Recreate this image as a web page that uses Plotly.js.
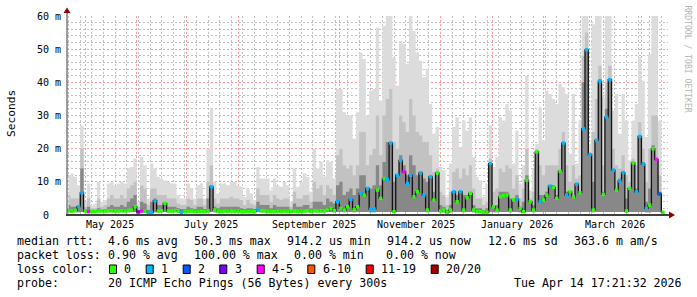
<!DOCTYPE html>
<html>
<head>
<meta charset="utf-8">
<script src="https://cdn.plot.ly/plotly-3.0.1.min.js"></script>
<style>html,body{margin:0;padding:0;background:#fff;}#chart{width:697px;height:297px;}</style>
</head>
<body>
<div id="chart"></div>
<script>
// ---- data (milliseconds), one sample every 2 days starting 2025-04-21 ----
const startDay = '2025-04-21';
const stepDays = 2;

const smokeTop = [
 12,12.5,11.5,9,27,4,9.5,3,3.5,10, 4,4.5,9.5,10,9,9.5,10,9.5,14,14.5,
 17,4,17.5,15,5,15.5,14,11.5,11,10.5, 10,9.5,9.5,6,5,5,9.5,8,5,9,
 9.5,5,20,32,10,
 6.5,9.5,9.5,9,10,10,9,8.5,5.5,8, 6.5,4.5,14.5,11,11,11,7.5,11,9,8.5,
 10,9,4,14,8.5,10,12.5,11.5,7,20, 14,16,11.5,16.5,16,11,38,38,31,30,
 30,23,31,49,47,
 30,37.5,38,56.5,34.5,57,60,60,47.5,39, 52.5,51.5,45.5,60,55.5,49,46.5,41.5,44,33.5,
 24.5,26.5,14.5,13.5,5.5,15.5,26.5,29.5,20.5,28.5, 25.5,29.5,17.5,11.5,10.5,5.5,9.5,27,14.5,17.5,
 29.5,28.5,33.5,31.5,15.5,
 25.5,9.5,15,42,7.5,14,21.5,32.5,22.5,37.5, 36.5,35,33.5,39.5,38.5,36.5,18.5,36.5,15.5,28.5,
 60,60,21.5,57.5,60,60,35.5,60,60,31.5, 36.5,24.5,36.5,28.5,16.5,28.5,33.5,47.5,40.5,23.5,
 48.5,60,60,28.5,1.5
];
const smokeMid = [
 6,5,5,5,20,2.5,5,2,2,5, 2.5,3,5,6,5,5,6,5,8,9,
 10,2.5,9,8,3,8,8,6,6,6, 5,5,5,3.5,3,3,5,4.5,3,5,
 5,3,10,15,5,
 3.5,5,5,5,5.5,5,5,4.5,3,4.5, 3.5,3,8,6,6,6,4,6,5,4.5,
 5,5,2.5,7,5,5,6,6,4,10, 8,9,6,9,8,6,18,20,15,14,
 15,12,15,25,25,
 15,18,20,30,18,30,35,38,22,20, 30,28,25,35,30,25,24,22,22,18,
 13,14,7,6,3,7,13,14,11,14, 12,15,8,5,5,3,4,17,7,8,
 14,13,15,14,8,
 12,5,8,20,5,7,20,15,12,15, 15,15,15,20,25,15,10,15,11,12,
 48,55,19,25,35,45,15,40,45,20, 15,14,18,12,10,17,15,28,20,10,
 20,30,30,12,1.2
];
const smokeDark = [
 3,2.5,2.5,3,14,1.8,2.5,1.5,1.5,2, 1.6,1.8,2.5,3,2.5,2.5,3,2.5,4,5,
 6,1.5,4,3.5,1.5,4,5,3,3,3.5, 2.5,2.5,2.5,2,1.8,1.8,2.5,2,1.8,2.5,
 2.5,1.8,5,9,2.5,
 2,2.5,2.5,2.5,2.5,2.5,2.5,2,1.8,2, 2,1.8,4,3,3,3,2,3,2.5,2.5,
 2.5,2.5,1.6,3.5,2.5,2.5,3,3,2,4, 4,4,3,5,4,3.5,9,10,6,7,
 8,6,8,12,12,
 8,8,9,15,9,16,22,22,10,12, 18,15,12,18,15,12,13,11,10,12,
 7,12,3,2.5,1.5,3,7,6,7,6, 6,7,3,2,2,1.5,2,15.5,3,3,
 7,7,7,5,5,
 6,2.5,4,12,4,3,19,6,6,7, 9,9,6,13,22,7,7,6,9.5,7,
 40,50,18,10,23,41,7,32,41,14, 8,11,13,5,8,16,8,24,16,4,
 8,21,17,7,1
];
const smokeLow = [
 0.85,0.8,0.85,0.8,0.9,0.8,0.8,0.8,0.8,0.85, 0.8,0.85,0.85,0.8,0.8,0.85,0.85,0.8,0.85,0.9,
 0.9,0.8,0.8,0.8,0.8,0.8,0.85,0.85,0.85,0.9, 0.85,0.8,0.85,0.8,0.8,0.8,0.8,0.85,0.8,0.8,
 0.8,0.8,0.85,0.9,0.85,
 0.8,0.8,0.85,0.8,0.85,0.8,0.85,0.8,0.8,0.8, 0.8,0.8,0.9,0.85,0.85,0.8,0.8,0.8,0.85,0.8,
 0.85,0.8,0.8,0.85,0.8,0.8,0.85,0.85,0.8,0.85, 0.85,0.85,0.85,0.9,0.9,0.85,0.9,0.9,0.85,0.9,
 0.9,0.85,0.9,0.9,0.9,
 0.9,0.85,0.85,0.9,0.9,0.9,0.9,0.9,0.8,0.9, 0.9,0.9,0.9,0.9,0.9,0.9,0.9,0.9,0.85,0.9,
 0.9,0.9,0.85,0.85,0.8,0.85,0.9,0.9,0.9,0.85, 0.9,0.9,0.85,0.8,0.8,0.8,0.8,0.9,0.85,0.85,
 0.9,0.9,0.9,0.85,0.9,
 0.9,0.85,0.8,0.9,0.9,0.85,0.9,0.9,0.9,0.9, 0.9,0.9,0.9,0.9,0.9,0.9,0.9,0.9,0.9,0.9,
 0.9,0.9,0.9,0.85,0.9,0.9,0.9,0.9,0.9,0.9, 0.9,0.9,0.9,0.85,0.9,0.9,0.9,0.9,0.9,0.85,
 0.85,0.9,0.9,0.9,0.8
];
const medianRtt = [
 1.3,1.2,1.4,2.5,6.7,1.2,1.0,1.1,1.1,1.2, 1.2,1.2,1.3,1.3,1.2,1.2,1.3,1.2,1.4,1.5,
 2.5,0.9,1.2,1.1,0.8,0.8,4.3,1.2,1.3,3.5, 1.2,1.2,1.3,1.2,0.8,1.1,1.1,1.2,1.0,1.0,
 1.1,1.0,1.3,8.5,1.5,
 1.1,1.1,1.2,1.1,1.2,1.1,1.2,1.0,1.0,1.0, 1.1,1.0,1.5,1.3,1.2,1.1,1.1,1.0,1.2,1.1,
 1.2,1.1,1.1,1.2,1.1,1.1,1.2,1.3,1.1,1.3, 1.2,1.3,1.2,1.5,2.0,1.3,4.0,2.0,1.5,2.5,
 4.7,1.6,2.5,6.5,6.0,
 8,1.7,1.8,7.5,5,11,10.7,21.7,1,12, 16.5,13,9.5,12,5.5,7,12.7,6,1.5,11.5,
 4.5,12.7,1.2,1.5,0.8,1.5,7,4,7,1.5, 5.2,6.5,1.5,1,1,0.8,0.8,15.5,2.5,1.5,
 5.5,5.8,6,1.5,4.5,
 4.8,2,1,10.5,4,1.5,19,4,4.5,6, 8.7,8.3,5,13.2,21.7,6,7,5.5,9.3,6.7,
 26,49.8,18.2,1.5,22.5,40.3,6.2,29.5,40.8,13.5, 7.5,10.3,12.8,1.2,8,15.7,7,23.7,15.3,2,
 3,20,16.8,6.3,0.8
];
// loss class per sample: 0 -> "0", 1 -> "1", 2 -> "2", 3 -> "3", 4 -> "4-5"
const lossClass = [
 0,0,0,1,1,0,4,0,0,0, 0,0,0,0,0,0,0,0,0,0,
 0,3,4,0,1,1,1,0,0,0, 0,0,0,0,1,0,0,0,0,0,
 0,0,0,1,0,
 0,0,0,0,0,0,0,0,0,0, 0,0,1,0,0,0,0,0,0,0,
 0,0,0,0,0,0,0,0,0,0, 0,0,0,0,0,0,1,0,0,0,
 1,0,0,1,0,
 1,1,1,0,0,0,1,1,0,1, 1,4,1,1,0,0,1,1,0,1,
 0,0,0,0,0,0,1,0,1,0, 0,0,0,0,0,0,0,1,0,0,
 0,0,0,0,0,
 1,0,0,0,0,0,0,1,0,0, 1,0,0,0,1,1,0,0,1,0,
 1,1,1,0,1,1,0,1,1,1, 0,1,1,0,0,0,1,1,1,1,
 0,0,4,2,0
];
const lossLabels = ['0','1','2','3','4-5','6-10','11-19','20/20'];
const lossColors = ['#26ff00','#00b8ff','#0059ff','#7e00ff','#ff00ff','#ff5500','#ff0000','#a10000'];

const monthStarts = ['2025-05-01','2025-06-01','2025-07-01','2025-08-01','2025-09-01','2025-10-01',
 '2025-11-01','2025-12-01','2026-01-01','2026-02-01','2026-03-01','2026-04-01'];
const monthLabelDates = ['2025-05-16','2025-07-16','2025-09-16','2025-11-16','2026-01-16','2026-03-16'];
const monthLabels = ['May 2025','July 2025','September 2025','November 2025','January 2026','March 2026'];
const yTickVals = [0,10,20,30,40,50,60];
const yTickText = ['0\u00a0\u00a0','10 m','20 m','30 m','40 m','50 m','60 m'];

const legendRows = [
 [['median rtt:',16],['4.6 ms avg',107.3],['50.3 ms max',192.7],['914.2 us min',286],['914.2 us now',386],['12.6 ms sd',486.7],['363.6 m am/s',572.7]],
 [['packet loss:',16],['0.90 % avg',107.3],['100.00 % max',192.7],['0.00 % min',293.3],['0.00 % now',385.3]],
 [['loss color:',16]],
 [['probe:',16],['20 ICMP Echo Pings (56 Bytes) every 300s',107.3],['Tue Apr 14 17:21:32 2026',512.7]]
];

// ---- build ----
const t0 = Date.parse(startDay + 'T00:00:00Z');
const days = medianRtt.map((_, i) => new Date(t0 + i * stepDays * 86400000).toISOString().slice(0, 10));

const W = 697, H = 297, L = 67, R = 668, T = 16, B = 215;
const px = x => (x - L) / (R - L);
const py = y => (B - y) / (B - T);
const MONO = 'DejaVu Sans Mono';

const traces = [];
const bands = [[smokeTop, '#dcdcdc'], [smokeMid, '#c2c2c2'], [smokeDark, '#888888']];
bands.forEach(([arr, col]) => {
  traces.push({x: days, y: smokeLow, type: 'scatter', mode: 'lines', line: {width: 0, shape: 'hvh'}, hoverinfo: 'skip', showlegend: false});
  traces.push({x: days, y: arr, type: 'scatter', mode: 'lines', line: {width: 0, shape: 'hvh'}, fill: 'tonexty', fillcolor: col, hoverinfo: 'skip', showlegend: false});
});
traces.push({
  x: days, y: medianRtt, type: 'scatter', mode: 'lines+markers',
  line: {color: '#111111', width: 1.3, shape: 'hvh'},
  marker: {symbol: 'square', size: 3.4, color: lossClass.map(c => lossColors[c]), line: {width: 0}},
  showlegend: false, hoverinfo: 'skip'
});

const annotations = [];
monthLabelDates.forEach((d, i) => annotations.push({
  x: d, xref: 'x', y: py(224.5), yref: 'paper', text: monthLabels[i], showarrow: false,
  xanchor: 'center', yanchor: 'middle', font: {family: MONO, size: 10, color: '#000'}
}));
const rowY = [241.3, 255.3, 269.3, 282.7];
legendRows.forEach((row, r) => row.forEach(([txt, x]) => annotations.push({
  x: px(x - 1), xref: 'paper', y: py(rowY[r]), yref: 'paper', text: txt.replace(/ /g, '\u00a0'),
  showarrow: false, xanchor: 'left', yanchor: 'middle', font: {family: MONO, size: 11.6, color: '#000'}
})));
const boxX = [109, 145.7, 182.7, 219.3, 256.7, 307.3, 365.7, 430.7];
const shapes = [];
lossLabels.forEach((lab, i) => {
  annotations.push({x: px(boxX[i] + 13.3), xref: 'paper', y: py(269.3), yref: 'paper', text: lab,
    showarrow: false, xanchor: 'left', yanchor: 'middle', font: {family: MONO, size: 11.6, color: '#000'}});
  shapes.push({type: 'rect', xref: 'paper', yref: 'paper', x0: px(boxX[i] + 0.5), x1: px(boxX[i] + 7.5),
    y0: py(273.5), y1: py(265), fillcolor: lossColors[i], line: {color: '#000', width: 1}});
});
annotations.push({x: px(11), xref: 'paper', y: py(114), yref: 'paper', text: 'Seconds', textangle: -90,
  showarrow: false, xanchor: 'center', yanchor: 'middle', font: {family: MONO, size: 11.2, color: '#000'}});
annotations.push({x: px(687.5), xref: 'paper', y: py(59), yref: 'paper', text: 'RRDTOOL / TOBI OETIKER', textangle: 90,
  showarrow: false, xanchor: 'center', yanchor: 'middle', font: {family: MONO, size: 8.1, color: '#b4b4b4'}});

// axis lines and arrows
shapes.push({type: 'line', xref: 'paper', yref: 'paper', x0: px(66), x1: px(670), y0: py(215), y1: py(215), line: {color: '#000', width: 1.5}});
shapes.push({type: 'line', xref: 'paper', yref: 'paper', x0: px(67), x1: px(67), y0: py(215), y1: py(12), line: {color: '#3a3a3a', width: 1}});
shapes.push({type: 'path', xref: 'paper', yref: 'paper',
  path: `M ${px(63.5)},${py(13)} L ${px(70.5)},${py(13)} L ${px(67)},${py(7.5)} Z`, fillcolor: '#8c0000', line: {width: 0}});
shapes.push({type: 'path', xref: 'paper', yref: 'paper',
  path: `M ${px(669)},${py(211.5)} L ${px(669)},${py(218.5)} L ${px(675)},${py(215)} Z`, fillcolor: '#8c0000', line: {width: 0}});

const gridMajor = '#ff9a9a', gridMinor = '#c2c2c2', DASH = '2px,2px';
const layout = {
  width: W, height: H, autosize: false,
  margin: {l: L, r: W - R, t: T, b: H - B, pad: 0},
  paper_bgcolor: '#fff', plot_bgcolor: '#fff', showlegend: false,
  xaxis: {
    type: 'date', range: ['2025-04-20', '2026-04-17'], tickmode: 'array', tickvals: monthStarts,
    showticklabels: false, ticks: '', showgrid: true, gridcolor: gridMajor, griddash: DASH, gridwidth: 1,
    zeroline: false, showline: false, fixedrange: true,
    minor: {tickmode: 'linear', tick0: '2025-04-21', dtick: 7 * 86400000, showgrid: true, gridcolor: gridMinor, griddash: DASH, gridwidth: 1, ticks: ''}
  },
  yaxis: {
    range: [0, 60], tickmode: 'linear', tick0: 0, dtick: 10, ticks: '',
    ticklabelstandoff: 5, tickfont: {family: MONO, size: 10, color: '#000'},
    showgrid: true, gridcolor: gridMajor, griddash: DASH, gridwidth: 1, zeroline: false, showline: false, fixedrange: true,
    minor: {tickmode: 'linear', tick0: 0, dtick: 2, showgrid: true, gridcolor: gridMinor, griddash: DASH, gridwidth: 1, ticks: ''}
  },
  annotations: annotations,
  shapes: shapes
};
Plotly.newPlot('chart', traces, layout, {staticPlot: true, displayModeBar: false}).then(gd => {
  Plotly.relayout(gd, {'yaxis.tickmode': 'array', 'yaxis.tickvals': yTickVals, 'yaxis.ticktext': yTickText});
});
</script>
</body>
</html>
